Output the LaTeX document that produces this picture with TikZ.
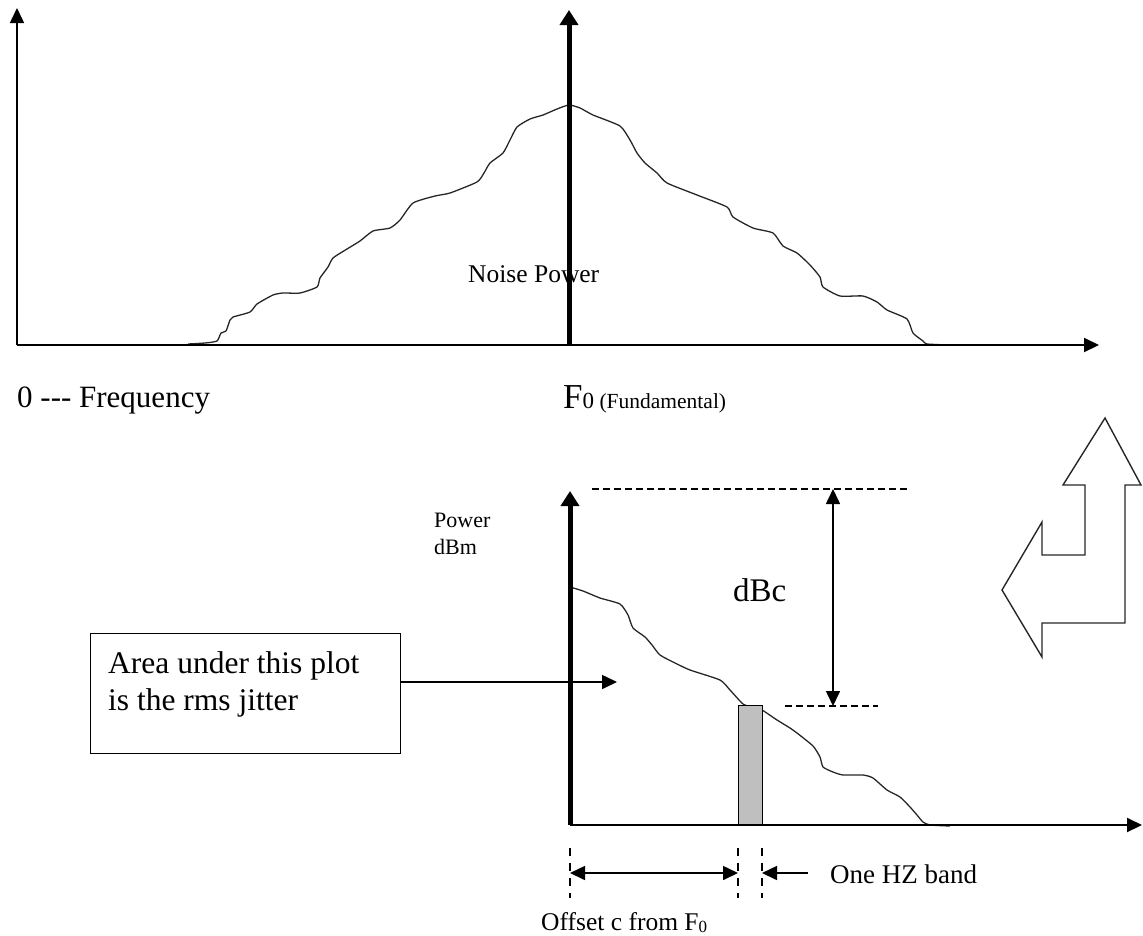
\documentclass[tikz,border=0pt]{standalone}
\usepackage{fontspec}
\setmainfont{Liberation Serif}
\usetikzlibrary{arrows.meta}
\begin{document}
\begin{tikzpicture}[x=1pt,y=-1pt,
  axisthin/.style={line width=1.6pt,-{Triangle[length=15pt,width=14pt]}},
  axisthick/.style={line width=5pt,-{Triangle[length=15pt,width=18pt]}},
  dimarrow/.style={line width=1.6pt,-{Triangle[length=15pt,width=14pt]}},
  dimboth/.style={line width=1.6pt,{Triangle[length=15pt,width=14pt]}-{Triangle[length=15pt,width=14pt]}},
  dashline/.style={line width=1.2pt,dash pattern=on 7pt off 4pt},
  vdash/.style={line width=1.4pt,dash pattern=on 8pt off 7pt},
  noise/.style={line width=1.3pt,black!85,line join=round},
  lbl/.style={anchor=base west,inner sep=0pt},
  hollow/.style={line width=1.4pt,draw=black!85,line join=miter}]
\useasboundingbox (0,0) rectangle (1143,935);

% ---------- top panel ----------
\coordinate (O1) at (17,345);
\coordinate (Y1) at (17,8);
\coordinate (X1) at (1099,345);
\coordinate (F0b) at (569,345);
\coordinate (F0t) at (569,10);

\draw[noise] plot[smooth,tension=0.35] coordinates {
 (188,344) (205,343) (217,341) (221,333) (226,331) (230,320) (233,317) (250,312)
 (257,304) (273,295) (283,293) (300,293) (317,287) (320,278) (328,267) (333,258)
 (347,249) (360,241) (373,231) (390,228) (400,220) (413,203) (435,196) (450,193)
 (477,182) (484,173) (490,163) (503,153) (510,140) (517,127) (530,119) (543,115)
 (557,109) (569,105) (580,108) (593,115) (620,126) (630,140) (637,153) (645,163)
 (657,173) (667,183) (697,195) (727,207) (733,217) (753,228) (773,233) (783,246)
 (797,253) (810,265) (820,277) (823,287) (840,296) (863,296) (877,302) (887,310)
 (907,319) (913,333) (923,341) (927,344) (950,345)};

\draw[axisthin] (O1) -- (Y1);
\draw[axisthin,line width=2pt] (O1) -- (X1);
\draw[axisthick] (F0b) -- (F0t);

\node[lbl,font=\fontsize{25.5}{30}\selectfont] (np) at (468,282) {Noise Power};
\node[lbl,font=\fontsize{31}{36}\selectfont] (freq) at (17,407) {0 -{}-{}- Frequency};
\node[lbl] (f0) at (563,408) {\fontsize{35}{40}\selectfont F\fontsize{23}{25}\selectfont 0\fontsize{21.5}{24}\selectfont\ (Fundamental)};

% ---------- hollow arrow ----------
\draw[hollow] (1105,418) -- (1141,485) -- (1125,485) -- (1125,623) -- (1042,623)
  -- (1042,657) -- (1002,590) -- (1042,522) -- (1042,555) -- (1085,555)
  -- (1085,485) -- (1063,485) -- cycle;

% ---------- bottom panel ----------
\coordinate (O2) at (570,825);
\coordinate (Y2) at (570,491);
\coordinate (X2) at (1142,825);

\draw[noise] plot[smooth,tension=0.35] coordinates {
 (570,587) (583,591) (600,598) (620,604) (628,615) (633,628) (645,637) (652,645)
 (660,655) (675,663) (690,670) (720,680) (730,690) (743,704) (752,707) (762,710)
 (777,720) (790,728) (797,733) (813,746) (820,757) (823,767) (833,772) (843,775)
 (863,775) (873,778) (887,790) (900,797) (910,807) (917,815) (923,822) (930,825) (950,826)};

\node[draw,line width=1.2pt,fill=black!25,minimum width=24pt,minimum height=119pt,
      anchor=south west,inner sep=0pt] (band) at (738,825) {};

\draw[axisthin,line width=2pt] (O2) -- (X2);
\draw[axisthick] (O2) -- (Y2);

% dBc dimension
\coordinate (dl1) at (592,489);
\coordinate (dr1) at (907,489);
\coordinate (dl2) at (785,706);
\coordinate (dr2) at (878,706);
\coordinate (dt) at (833,489);
\coordinate (db) at (833,706);
\draw[dashline] (dl1) -- (dr1);
\draw[dashline] (dl2) -- (dr2);
\draw[dimboth] (dt) -- (db);
\node[lbl,font=\fontsize{33}{38}\selectfont] (dbc) at (733,601) {dBc};

\node[lbl,font=\fontsize{22}{26}\selectfont] (pw) at (434,527) {Power};
\node[lbl,font=\fontsize{22}{26}\selectfont] (dbm) at (434,554) {dBm};

% annotation box
\node[draw,line width=1.4pt,minimum width=310pt,minimum height=120pt,inner sep=0pt,
      anchor=north west] (box) at (90,633) {};
\node[lbl,font=\fontsize{31.5}{37}\selectfont] (boxl1) at (108,673) {Area under this plot};
\node[lbl,font=\fontsize{31.5}{37}\selectfont] (boxl2) at (108,710) {is the rms jitter};
\coordinate (tipA) at (617,682);
\draw[dimarrow] (box.east |- tipA) -- (tipA);

% offset / band markers
\coordinate (v1a) at (570,848); \coordinate (v1b) at (570,898);
\coordinate (v2a) at (738,848); \coordinate (v2b) at (738,898);
\coordinate (v3a) at (762,848); \coordinate (v3b) at (762,898);
\draw[vdash] (v1a) -- (v1b);
\draw[vdash] (v2a) -- (v2b);
\draw[vdash] (v3a) -- (v3b);
\coordinate (h1) at (570,873);
\coordinate (h2) at (738,873);
\coordinate (h3) at (762,873);
\coordinate (h4) at (808,873);
\draw[dimboth] (h1) -- (h2);
\draw[dimarrow] (h4) -- (h3);

\node[lbl,font=\fontsize{27}{32}\selectfont] (band1) at (830,883) {One HZ band};
\node[lbl,font=\fontsize{25.5}{30}\selectfont] (offs) at (541,930)
  {Offset c from F\raisebox{-2pt}{\fontsize{17}{20}\selectfont 0}};
\end{tikzpicture}
\end{document}
